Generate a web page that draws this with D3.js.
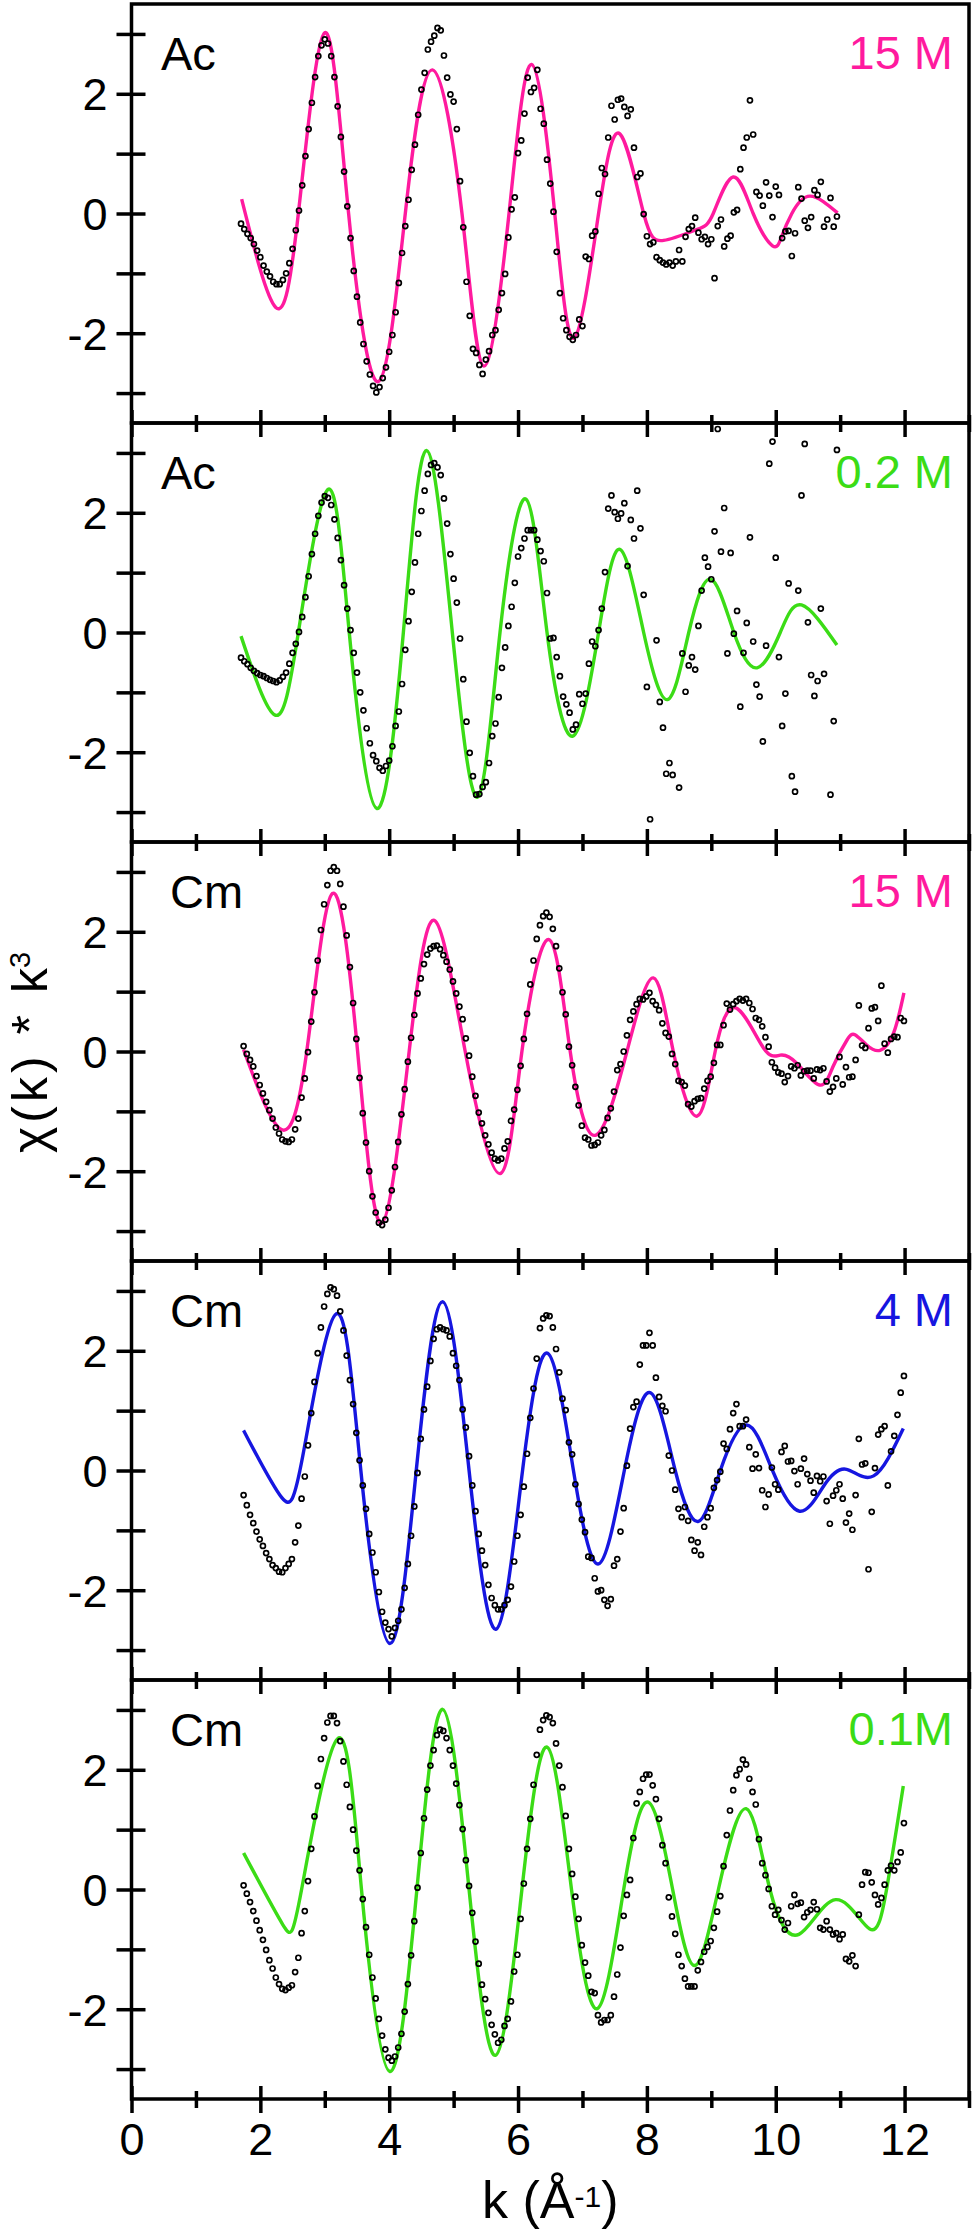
<!DOCTYPE html>
<html>
<head>
<meta charset="utf-8">
<script src="https://cdn.jsdelivr.net/npm/d3@7"></script>
<style>
body { margin: 0; background: #fff; }
</style>
</head>
<body>
<script>
const WIDTH = 975;
const HEIGHT = 2232;
const FONT = "'Liberation Sans', Arial, Helvetica, sans-serif";

const PANEL_TOP = 4;
const PANEL_H = 419;

// one entry per panel, top to bottom
const elements = ["Ac", "Ac", "Cm", "Cm", "Cm"];
const concLabels = ["15 M", "0.2 M", "15 M", "4 M", "0.1M"];
const fitColors = ["#ff1a9e", "#3bdc16", "#ff1a9e", "#1616e0", "#3bdc16"];

// data points sit on a k grid of 0.05 A^-1
const kStart = [1.70, 1.70, 1.74, 1.74, 1.74];
const kStep = 0.05;

const chiAc15 = [
  -0.17,-0.26,-0.34,-0.41,-0.51,-0.62,-0.73,-0.87,-0.97,-1.05,
  -1.14,-1.18,-1.18,-1.11,-1.00,-0.83,-0.59,-0.28,0.05,0.47,
  0.96,1.41,1.85,2.28,2.63,2.81,2.91,2.84,2.63,2.28,
  1.79,1.28,0.70,0.12,-0.41,-0.96,-1.39,-1.82,-2.18,-2.47,
  -2.69,-2.88,-2.99,-2.90,-2.75,-2.57,-2.31,-2.03,-1.65,-1.16,
  -0.66,-0.21,0.23,0.73,1.15,1.65,2.07,2.35,2.74,2.87,
  2.97,3.10,3.06,2.64,2.27,1.99,1.87,1.41,0.54,-0.23,
  -1.14,-1.71,-2.26,-2.33,-2.53,-2.68,-2.44,-2.30,-2.03,-1.95,
  -1.61,-1.33,-1.01,-0.40,0.07,0.27,1.01,1.22,1.67,2.27,
  2.03,2.10,2.40,1.75,1.50,0.90,0.50,0.03,-0.64,-1.33,
  -1.75,-1.95,-2.06,-2.11,-2.03,-1.77,-1.88,-0.72,-0.76,-0.37,
  -0.30,0.33,0.76,0.66,1.27,1.80,1.57,1.90,1.92,1.78,
  1.63,1.74,1.10,0.61,0.67,-0.01,-0.38,-0.51,-0.48,-0.73,
  -0.78,-0.82,-0.85,-0.82,-0.87,-0.80,-0.61,-0.80,-0.39,-0.26,
  -0.21,-0.07,-0.32,-0.43,-0.39,-0.51,-0.43,-1.08,-0.21,-0.10,
  -0.55,-0.42,-0.37,0.02,0.06,0.74,1.10,1.27,1.89,1.32,
  0.36,0.30,0.13,0.52,0.30,-0.06,0.45,0.31,-0.41,-0.30,
  -0.29,-0.71,-0.33,0.44,0.25,-0.12,-0.24,-0.06,0.39,0.31,
  0.53,-0.22,-0.10,0.26,-0.22,-0.05
];

const chiAc02 = [
  -0.42,-0.48,-0.53,-0.59,-0.64,-0.68,-0.71,-0.73,-0.76,-0.79,
  -0.81,-0.83,-0.80,-0.74,-0.67,-0.52,-0.34,-0.19,0.01,0.26,
  0.59,0.94,1.31,1.65,1.95,2.17,2.28,2.25,2.13,1.89,
  1.58,1.21,0.79,0.40,0.04,-0.34,-0.67,-1.00,-1.30,-1.60,
  -1.85,-2.05,-2.15,-2.26,-2.31,-2.23,-2.14,-1.90,-1.56,-1.32,
  -0.86,-0.29,0.19,0.68,1.17,1.65,2.03,2.37,2.65,2.80,
  2.83,2.76,2.63,2.24,1.82,1.31,0.90,0.50,-0.10,-0.78,
  -1.49,-2.01,-2.40,-2.71,-2.70,-2.58,-2.50,-2.18,-1.73,-1.52,
  -1.08,
  -0.59,-0.25,0.11,0.43,0.83,1.27,1.41,1.57,1.71,1.71,
  1.71,1.55,1.36,1.19,0.66,-0.10,-0.09,-0.41,-0.73,-1.07,
  -1.20,-1.34,-1.62,-1.54,-1.03,-1.19,-1.02,-0.52,-0.15,-0.23,
  0.04,0.40,1.01,2.07,2.29,2.01,1.90,1.99,2.16,1.11,
  1.88,1.57,2.37,1.74,0.63,-0.91,-3.12,null,-0.13,-1.16,
  -1.59,-2.36,-2.18,-2.38,null,-2.59,-0.35,-0.99,-0.55,-0.41,
  -0.62,0.11,0.70,1.25,1.10,0.89,1.69,3.40,1.35,2.08,
  -0.35,1.33,-0.02,0.36,-1.24,-0.34,0.16,1.59,-0.15,-0.87,
  -1.07,-1.82,-0.22,2.82,3.19,1.25,-0.41,-1.56,-1.02,0.82,
  -2.40,-2.66,0.70,2.29,3.15,0.17,-0.71,-1.06,-0.81,0.40,
  -0.69,null,-2.71,-1.48,3.05
];

const chiCm15 = [
  0.09,-0.04,-0.14,-0.25,-0.41,-0.56,-0.70,-0.84,-0.98,-1.12,
  -1.27,-1.37,-1.47,-1.50,-1.51,-1.47,-1.30,-1.12,-0.77,-0.45,
  -0.01,0.50,0.99,1.52,2.03,2.46,2.78,3.02,3.08,3.02,
  2.80,2.42,1.94,1.41,0.81,0.21,-0.44,-1.03,-1.52,-2.00,
  -2.42,-2.69,-2.86,-2.90,-2.81,-2.61,-2.32,-1.93,-1.51,-1.05,
  -0.63,-0.17,0.23,0.61,0.97,1.22,1.46,1.62,1.72,1.76,
  1.77,1.71,1.61,1.50,1.37,1.17,0.97,0.75,0.54,0.22,
  -0.07,-0.42,-0.74,-1.02,-1.20,-1.40,-1.55,-1.69,-1.79,-1.82,
  -1.79,-1.62,-1.50,-1.16,-0.97,-0.64,-0.24,0.21,0.63,1.12,
  1.52,1.88,2.11,2.26,2.32,2.25,2.05,1.76,1.39,0.99,
  0.62,0.08,-0.23,-0.59,-0.90,-1.24,-1.44,-1.47,-1.57,-1.56,
  -1.52,-1.40,-1.31,-1.11,-0.95,-0.67,-0.31,-0.21,0.00,0.27,
  0.53,0.67,0.79,0.88,0.87,0.92,0.98,0.84,0.78,0.69,
  0.47,0.31,0.25,-0.04,-0.21,-0.49,-0.51,-0.57,-0.88,-0.92,
  -0.83,-0.79,-0.78,-0.62,-0.49,-0.42,-0.19,0.11,0.11,0.44,
  0.80,0.70,0.79,0.84,0.88,0.85,0.88,0.81,0.71,0.56,
  0.53,0.42,0.24,0.08,-0.18,-0.27,-0.35,-0.37,-0.51,-0.41,
  -0.25,-0.28,-0.23,-0.40,-0.33,-0.32,-0.32,-0.45,-0.30,-0.31,
  -0.28,-0.50,-0.67,-0.59,-0.45,-0.09,-0.55,-0.26,-0.43,-0.42,
  -0.14,0.77,0.10,0.06,0.39,0.72,0.74,0.51,1.10,0.13,
  -0.02,0.21,0.25,0.24,0.56,0.51
];

const chiCm4 = [
  -0.41,-0.58,-0.74,-0.88,-1.02,-1.15,-1.26,-1.38,-1.48,-1.58,
  -1.63,-1.69,-1.70,-1.63,-1.56,-1.48,-1.20,-0.92,-0.47,-0.10,
  0.42,0.96,1.48,1.96,2.39,2.74,2.95,3.06,3.03,2.92,
  2.66,2.34,1.92,1.51,1.11,0.63,0.17,-0.25,-0.64,-1.06,
  -1.37,-1.70,-2.03,-2.36,-2.54,-2.65,-2.77,-2.63,-2.51,-2.32,
  -1.96,-1.56,-1.09,-0.60,-0.04,0.53,1.02,1.40,1.83,2.20,
  2.36,2.39,2.36,2.34,2.24,1.96,1.75,1.51,1.02,0.72,
  0.24,-0.25,-0.68,-1.06,-1.34,-1.58,-1.91,-2.13,-2.25,-2.32,
  -2.32,-2.25,-2.16,-1.94,-1.52,-1.09,-0.74,-0.27,0.28,0.88,
  1.37,1.87,2.38,2.54,2.59,2.58,2.39,2.03,1.64,1.20,
  1.01,0.47,0.27,-0.23,-0.56,-0.82,-1.03,-1.44,-1.46,-1.80,
  -2.02,-2.00,-2.16,-2.26,-2.15,-1.59,-1.48,-1.02,-0.63,0.08,
  0.70,1.06,1.15,1.77,2.09,2.09,2.30,2.09,1.55,1.23,
  1.08,0.99,0.25,0.00,-0.32,-0.64,-0.78,-0.61,-0.84,-1.16,
  -1.34,-1.20,-1.41,-0.94,-0.78,-0.63,-0.29,-0.16,-0.02,0.45,
  0.36,0.69,0.96,1.11,0.74,0.74,0.85,0.39,0.03,0.27,
  0.04,-0.33,-0.61,-0.40,0.05,-0.23,-0.32,0.31,0.41,0.15,
  0.16,-0.01,-0.23,0.03,0.20,-0.06,-0.17,-0.37,-0.09,-0.18,
  -0.10,-0.51,-0.89,-0.42,-0.33,-0.23,-0.47,-0.87,-0.72,-0.99,
  -0.41,0.53,0.10,0.12,-1.65,-0.69,0.04,0.60,0.69,0.74,
  -0.25,0.32,0.58,0.93,1.30,1.58
];

const chiCm01 = [
  0.07,-0.07,-0.21,-0.36,-0.52,-0.68,-0.84,-1.01,-1.18,-1.32,
  -1.47,-1.58,-1.66,-1.68,-1.64,-1.60,-1.38,-1.14,-0.73,-0.36,
  0.14,0.68,1.22,1.73,2.18,2.53,2.79,2.90,2.90,2.78,
  2.48,2.14,1.75,1.38,1.00,0.65,0.32,-0.16,-0.63,-1.09,
  -1.47,-1.82,-2.16,-2.44,-2.67,-2.81,-2.86,-2.79,-2.64,-2.41,
  -2.04,-1.58,-1.10,-0.53,0.03,0.61,1.19,1.67,2.07,2.33,
  2.58,2.67,2.65,2.53,2.33,2.07,1.77,1.41,1.01,0.49,
  0.06,-0.39,-0.87,-1.24,-1.59,-1.83,-2.06,-2.26,-2.42,-2.56,
  -2.51,-2.28,-2.16,-1.87,-1.37,-1.09,-0.49,0.10,0.68,1.18,
  1.75,2.25,2.67,2.83,2.91,2.88,2.78,2.44,2.07,1.71,
  1.23,0.68,0.26,-0.12,-0.49,-0.93,-1.22,-1.44,-1.71,-1.73,
  -2.10,-2.22,-2.18,-2.18,-2.10,-1.79,-1.42,-0.97,-0.44,-0.09,
  0.16,0.86,1.44,1.63,1.85,1.92,1.92,1.74,1.51,1.18,
  0.74,0.44,-0.13,-0.45,-0.74,-1.09,-1.28,-1.49,-1.62,-1.62,
  -1.62,-1.35,-1.21,-1.04,-0.96,-0.86,-0.64,-0.37,-0.11,0.39,
  0.91,1.32,1.66,1.91,2.01,2.17,2.09,1.85,1.63,1.42,
  0.84,0.44,0.24,0.01,-0.28,-0.42,-0.34,-0.51,-0.67,-0.56,
  -0.28,-0.09,-0.24,-0.22,-0.46,-0.38,-0.34,-0.21,-0.33,-0.64,
  -0.67,-0.53,-0.67,-0.75,-0.73,-0.83,-0.75,-1.16,-1.20,-1.10,
  -1.28,-0.42,0.08,0.29,0.28,0.12,-0.09,-0.25,-0.14,0.08,
  0.32,0.40,0.32,0.46,0.62,1.11
];

// fitted curves, [k, chi*k^3]
const fitAc15 = [[1.71,0.24],[2.24,-1.57],[2.59,0],[3.00,3.02],[3.37,0],[3.83,-2.81],[4.25,0],[4.67,2.40],
  [5.13,0],[5.47,-2.55],[5.86,0],[6.21,2.49],[6.57,0],[6.87,-2.08],[7.25,0],[7.58,1.33],[7.95,0],
  [8.26,-0.45],[8.77,-0.27],[9.03,0],[9.34,0.61],[9.65,0],[9.95,-0.54],[10.09,-0.39],[10.25,0],
  [10.53,0.29],[10.96,0.01]];
const fitAc02 = [[1.70,-0.06],[2.23,-1.38],[2.59,0],[3.05,2.39],[3.38,0],[3.81,-2.94],[4.22,0],[4.58,3.04],
  [4.98,0],[5.37,-2.75],[5.72,0],[6.12,2.23],[6.45,0],[6.85,-1.73],[7.25,0],[7.58,1.39],[7.95,0],
  [8.32,-1.12],[8.65,0],[8.99,0.89],[9.35,0],[9.71,-0.59],[10.07,0],[10.40,0.46],[10.95,-0.21]];
const fitCm15 = [[1.74,0.03],[2.32,-1.30],[2.72,0],[3.12,2.64],[3.51,0],[3.88,-2.87],[4.31,0],[4.70,2.19],
  [5.18,0],[5.72,-2.04],[6.06,0],[6.48,1.87],[6.81,0],[7.20,-1.40],[7.69,0],[8.10,1.23],[8.41,0],
  [8.78,-1.08],[9.06,0],[9.38,0.73],[9.81,0.06],[10.07,-0.06],[10.33,-0.20],[10.68,-0.56],
  [10.89,-0.25],[11.10,0.18],[11.23,0.28],[11.41,0.11],[11.62,0.02],[11.83,0.31],[11.99,0.98]];
const fitCm4 = [[1.74,0.67],[2.33,-0.45],[2.66,0.25],[3.18,2.62],[3.56,0],[4.01,-2.89],[4.42,0],[4.83,2.82],
  [5.24,0],[5.66,-2.65],[6.07,0],[6.46,1.96],[6.86,0],[7.25,-1.56],[7.65,0],[8.05,1.30],[8.44,0],
  [8.80,-0.85],[9.14,0],[9.55,0.76],[9.95,0],[10.37,-0.68],[10.75,-0.25],[11.10,0.02],[11.52,-0.09],
  [11.98,0.70]];
const fitCm01 = [[1.74,0.61],[2.35,-0.59],[2.64,0],[3.20,2.52],[3.57,0],[4.01,-3.04],[4.43,0],[4.83,3.01],
  [5.24,0],[5.65,-2.77],[6.06,0],[6.45,2.38],[6.83,0],[7.23,-1.99],[7.64,0],[8.02,1.46],[8.40,0],
  [8.74,-1.27],[9.11,0],[9.54,1.35],[9.91,0],[10.36,-0.75],[10.93,-0.17],[11.46,-0.66],[11.72,0],
  [11.98,1.73]];

const chiData = [chiAc15, chiAc02, chiCm15, chiCm4, chiCm01];
const fitData = [fitAc15, fitAc02, fitCm15, fitCm4, fitCm01];

const svg = d3.select("body").append("svg")
    .attr("width", WIDTH)
    .attr("height", HEIGHT)
    .style("font-family", FONT);

const x = d3.scaleLinear().domain([0, 13]).range([131.5, 969]);

for (let p = 0; p < 5; p++) drawPanel(p);
drawTitles();

function drawPanel(p) {
    const top = PANEL_TOP + p * PANEL_H;
    const y = d3.scaleLinear().domain([-3.5, 3.5]).range([top + PANEL_H, top]);
    const g = svg.append("g");

    g.append("rect")
        .attr("x", x(0))
        .attr("y", top)
        .attr("width", x(13) - x(0))
        .attr("height", PANEL_H)
        .attr("fill", "none")
        .attr("stroke", "#000")
        .attr("stroke-width", 3.5);

    // y ticks cross the axis line
    const yAxis = d3.axisLeft(y)
        .tickValues(d3.range(-3, 4))
        .tickSize(15)
        .tickPadding(9)
        .tickFormat(d => d % 2 === 0 ? String(d) : "");
    const ya = g.append("g")
        .attr("transform", `translate(${x(0)},0)`)
        .call(yAxis)
        .attr("font-size", 45)
        .attr("font-family", FONT);
    ya.select(".domain").remove();
    ya.selectAll(".tick line").attr("x1", 14).attr("stroke-width", 3.5);
    ya.selectAll(".tick text").attr("dy", "0.36em");

    const last = p === 4;
    const xAxis = d3.axisBottom(x)
        .tickValues(d3.range(0, 14))
        .tickSize(14)
        .tickPadding(10)
        .tickFormat(d => (last && d % 2 === 0) ? String(d) : "");
    const xa = g.append("g")
        .attr("transform", `translate(0,${top + PANEL_H})`)
        .call(xAxis)
        .attr("font-size", 45)
        .attr("font-family", FONT);
    xa.select(".domain").remove();
    xa.selectAll(".tick line")
        .attr("y1", d => d % 2 === 0 ? -13 : -8)
        .attr("y2", d => d % 2 === 0 ? 14 : 9)
        .attr("stroke-width", 3.5);

    const line = d3.line()
        .x(d => x(d[0]))
        .y(d => y(d[1]))
        .curve(d3.curveNatural);

    g.append("path")
        .datum(fitData[p])
        .attr("d", line)
        .attr("fill", "none")
        .attr("stroke", fitColors[p])
        .attr("stroke-width", 3.4);

    const pts = chiData[p]
        .map((v, i) => ({ k: kStart[p] + i * kStep, v }))
        .filter(d => d.v !== null);

    g.selectAll(".pt")
        .data(pts).enter()
        .append("circle")
        .attr("class", "pt")
        .attr("cx", d => x(d.k))
        .attr("cy", d => y(d.v))
        .attr("r", 2.5)
        .attr("fill", "none")
        .attr("stroke", "#000")
        .attr("stroke-width", 1.7);

    g.append("text")
        .attr("x", elements[p] === "Ac" ? 161 : 170)
        .attr("y", top + 66)
        .attr("font-size", 47)
        .attr("fill", "#000")
        .text(elements[p]);

    g.append("text")
        .attr("x", 953)
        .attr("y", top + 65)
        .attr("text-anchor", "end")
        .attr("font-size", 47)
        .attr("fill", fitColors[p])
        .text(concLabels[p]);
}

function drawTitles() {
    // rotated y title, squeezed to the length it has in the figure
    svg.append("text")
        .attr("transform", "translate(47,1153) rotate(-90)")
        .attr("font-size", 50)
        .attr("textLength", 185)
        .attr("lengthAdjust", "spacing")
        .text("\u03c7(k) * k");
    svg.append("text")
        .attr("transform", "translate(30,968) rotate(-90)")
        .attr("font-size", 29)
        .text("3");

    const xt = svg.append("text")
        .attr("x", x(6.5))
        .attr("y", 2218)
        .attr("text-anchor", "middle")
        .attr("font-size", 52);
    xt.append("tspan").text("k (\u00c5");
    xt.append("tspan").attr("font-size", 30).attr("dy", -11).text("-1");
    xt.append("tspan").attr("dy", 11).text(")");
}
</script>
</body>
</html>
